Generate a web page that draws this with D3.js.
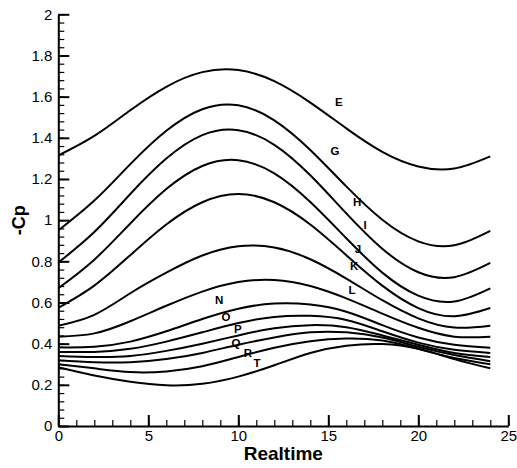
<!DOCTYPE html>
<html>
<head>
<meta charset="utf-8">
<script src="https://cdn.jsdelivr.net/npm/d3@7"></script>
<style>
  html, body { margin: 0; padding: 0; background: #fff; }
  svg { display: block; }
  text { font-family: "Liberation Sans", Arial, sans-serif; }
</style>
</head>
<body>
<svg id="chart" width="517" height="468"></svg>
<script>
// Sample times (hours)
const times = [0, 2, 4, 6, 8, 10, 12, 14, 16, 18, 20, 22, 24];

// -Cp at each sample time, one array per curve (top to bottom)
const curveE = [1.314, 1.409, 1.534, 1.648, 1.719, 1.729, 1.675, 1.571, 1.446, 1.332, 1.261, 1.251, 1.310];
const curveG = [0.950, 1.095, 1.272, 1.434, 1.539, 1.558, 1.485, 1.341, 1.164, 1.002, 0.897, 0.878, 0.948];
const curveH = [0.794, 0.942, 1.127, 1.299, 1.413, 1.437, 1.366, 1.218, 1.033, 0.861, 0.747, 0.723, 0.792];
const curveI = [0.669, 0.808, 0.984, 1.151, 1.263, 1.291, 1.227, 1.088, 0.912, 0.745, 0.633, 0.605, 0.669];
const curveJ = [0.574, 0.682, 0.830, 0.979, 1.087, 1.127, 1.087, 0.979, 0.830, 0.682, 0.573, 0.533, 0.573];
const curveK = [0.487, 0.540, 0.645, 0.745, 0.828, 0.873, 0.867, 0.810, 0.716, 0.611, 0.523, 0.478, 0.487];
const curveL = [0.434, 0.450, 0.509, 0.584, 0.653, 0.699, 0.709, 0.680, 0.620, 0.546, 0.477, 0.434, 0.434];
const curveN = [0.382, 0.385, 0.410, 0.460, 0.520, 0.570, 0.595, 0.590, 0.555, 0.490, 0.430, 0.395, 0.380];
const curveO = [0.360, 0.360, 0.375, 0.410, 0.455, 0.500, 0.530, 0.535, 0.515, 0.460, 0.405, 0.370, 0.355];
const curveP = [0.340, 0.335, 0.340, 0.365, 0.400, 0.440, 0.475, 0.490, 0.480, 0.440, 0.395, 0.355, 0.335];
const curveQ = [0.320, 0.310, 0.310, 0.325, 0.355, 0.395, 0.430, 0.455, 0.455, 0.430, 0.385, 0.345, 0.315];
const curveR = [0.300, 0.280, 0.262, 0.265, 0.290, 0.335, 0.380, 0.412, 0.425, 0.415, 0.375, 0.330, 0.300];
const curveT = [0.285, 0.245, 0.215, 0.198, 0.205, 0.240, 0.295, 0.355, 0.390, 0.398, 0.375, 0.325, 0.280];

const allCurves = [curveE, curveG, curveH, curveI, curveJ, curveK, curveL,
                   curveN, curveO, curveP, curveQ, curveR, curveT];

// Curve labels and where they sit (time, -Cp)
const labelNames = ["E", "G", "H", "I", "J", "K", "L", "N", "O", "P", "Q", "R", "T"];
const labelTimes = [15.59, 15.37, 16.60, 17.04, 16.65, 16.43, 16.32, 8.93, 9.32, 9.98, 9.87, 10.54, 11.04];
const labelCps   = [1.574, 1.336, 1.088, 0.976, 0.860, 0.777, 0.660, 0.612, 0.529, 0.470, 0.403, 0.357, 0.304];

// Axis ticks
const xMajorTicks = [0, 5, 10, 15, 20, 25];
const yMajorTicks = [0, 0.2, 0.4, 0.6, 0.8, 1, 1.2, 1.4, 1.6, 1.8, 2];

const svg = d3.select("#chart");
const plotLeft = 58.3, plotRight = 508.3, plotTop = 14.3, plotBottom = 426;

const x = d3.scaleLinear().domain([0, 25]).range([plotLeft, plotRight]);
const y = d3.scaleLinear().domain([0, 2]).range([plotBottom, plotTop]);

const xMinor = d3.range(0, 25.001, 1);
const yMinor = d3.range(0, 2.0001, 0.04);

// Minor ticks
svg.append("g")
  .attr("transform", `translate(0,${plotBottom})`)
  .call(d3.axisBottom(x).tickValues(xMinor).tickSizeInner(-6).tickSizeOuter(0).tickFormat(""))
  .call(g => g.select(".domain").remove())
  .call(g => g.selectAll("line").attr("stroke", "#000").attr("stroke-width", 1.2));

svg.append("g")
  .attr("transform", `translate(${plotLeft},0)`)
  .call(d3.axisLeft(y).tickValues(yMinor).tickSizeInner(-6).tickSizeOuter(0).tickFormat(""))
  .call(g => g.select(".domain").remove())
  .call(g => g.selectAll("line").attr("stroke", "#000").attr("stroke-width", 1.2));

// Major ticks and labels
const xAxis = svg.append("g")
  .attr("transform", `translate(0,${plotBottom})`)
  .call(d3.axisBottom(x).tickValues(xMajorTicks).tickSizeInner(-11).tickSizeOuter(0)
        .tickPadding(4).tickFormat(d3.format("d")));
xAxis.select(".domain").attr("stroke", "#000").attr("stroke-width", 2);
xAxis.selectAll("line").attr("stroke", "#000").attr("stroke-width", 2);
xAxis.selectAll("text").attr("font-size", 15).attr("fill", "#000")
  .attr("font-family", "Liberation Sans, Arial, sans-serif");

const yAxis = svg.append("g")
  .attr("transform", `translate(${plotLeft},0)`)
  .call(d3.axisLeft(y).tickValues(yMajorTicks).tickSizeInner(-11).tickSizeOuter(0)
        .tickPadding(6).tickFormat(d => String(+d.toFixed(1))));
yAxis.select(".domain").attr("stroke", "#000").attr("stroke-width", 2);
yAxis.selectAll("line").attr("stroke", "#000").attr("stroke-width", 2);
yAxis.selectAll("text").attr("font-size", 15).attr("fill", "#000")
  .attr("font-family", "Liberation Sans, Arial, sans-serif");

// Axis titles
svg.append("text")
  .attr("x", (plotLeft + plotRight) / 2).attr("y", 460)
  .attr("text-anchor", "middle")
  .attr("font-size", 19).attr("font-weight", "bold")
  .text("Realtime");

svg.append("text")
  .attr("transform", `translate(25,${(plotTop + plotBottom) / 2}) rotate(-90)`)
  .attr("text-anchor", "middle")
  .attr("font-size", 18).attr("font-weight", "bold")
  .text("-Cp");

// Curves
const line = d3.line()
  .x((d, i) => x(times[i]))
  .y(d => y(d))
  .curve(d3.curveNatural);

svg.append("g")
  .selectAll("path")
  .data(allCurves)
  .join("path")
  .attr("d", line)
  .attr("fill", "none")
  .attr("stroke", "#000")
  .attr("stroke-width", 2);

// Curve labels
svg.append("g")
  .selectAll("text")
  .data(labelNames)
  .join("text")
  .attr("x", (d, i) => x(labelTimes[i]))
  .attr("y", (d, i) => y(labelCps[i]))
  .attr("text-anchor", "middle")
  .attr("dominant-baseline", "central")
  .attr("font-size", 11.5)
  .attr("font-weight", "bold")
  .text(d => d);
</script>
</body>
</html>
